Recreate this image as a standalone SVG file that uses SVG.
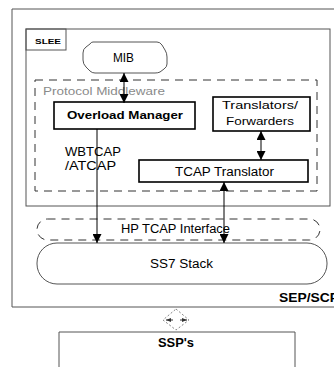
<svg xmlns="http://www.w3.org/2000/svg" width="334" height="367" viewBox="0 0 334 367">
<defs>
<marker id="ah" viewBox="0 0 10 10" refX="10" refY="5" markerWidth="10" markerHeight="9" markerUnits="userSpaceOnUse" orient="auto-start-reverse">
<path d="M0,0 L10,5 L0,10 z" fill="#000"/>
</marker>
<marker id="ahs" viewBox="0 0 10 10" refX="10" refY="5" markerWidth="5" markerHeight="5" markerUnits="userSpaceOnUse" orient="auto-start-reverse">
<path d="M0,1 L10,5 L0,9 z" fill="#333"/>
</marker>
</defs>
<style>
text{font-family:"Liberation Sans",Arial,sans-serif;fill:#000}
.thin{fill:none;stroke:#555;stroke-width:1}
.box{fill:#fff;stroke:#000;stroke-width:1.6}
.dash{fill:none;stroke:#333;stroke-width:1;stroke-dasharray:8,6}
.lbl{text-anchor:start}
.b{font-weight:bold}
.conn{stroke:#000;stroke-width:1;fill:none}
</style>
<rect width="334" height="367" fill="#fff"/>
<g id="sep">
<path class="thin" d="M340,9 L12,9 L12,307 L340,307"/>
<text x="279" y="302" font-size="12" class="b" textLength="60" lengthAdjust="spacingAndGlyphs">SEP/SCP</text>
</g>
<g id="slee">
<rect class="thin" x="26" y="29" width="304" height="177"/>
<rect class="thin" x="26" y="29" width="40" height="21"/>
<text x="35" y="44" font-size="8" class="b" textLength="26" lengthAdjust="spacingAndGlyphs">SLEE</text>
</g>
<g id="protocol-middleware">
<rect class="dash" x="35" y="80" width="282" height="111"/>
<text x="43" y="95" font-size="10" style="fill:#8a8a8a" textLength="122" lengthAdjust="spacingAndGlyphs">Protocol Middleware</text>
</g>
<g id="mib">
<path class="thin" d="M93,42 L157,42 Q160,42 162,45 L165,50 Q167,53 167,57 L167,64 Q167,67 164,69 L160,72 Q158,73 155,73 L95,73 Q92,73 90,71 L86,67 Q83,64 83,60 L83,53 Q83,49 86,47 L90,44 Q91,42 93,42 Z"/>
<text x="113" y="62" font-size="12" textLength="21" lengthAdjust="spacingAndGlyphs">MIB</text>
</g>
<g id="overload-manager">
<rect class="box" x="54" y="102" width="141" height="27"/>
<text x="67" y="119" font-size="11.5" class="b" textLength="116" lengthAdjust="spacingAndGlyphs">Overload Manager</text>
</g>
<g id="translators">
<rect class="box" x="213" y="97" width="97" height="34"/>
<text x="222" y="109" font-size="11.5" textLength="76" lengthAdjust="spacingAndGlyphs">Translators/</text>
<text x="226" y="125" font-size="11.5" textLength="68" lengthAdjust="spacingAndGlyphs">Forwarders</text>
</g>
<g id="tcap-translator">
<rect class="box" x="139" y="160" width="169" height="22"/>
<text x="175" y="175.5" font-size="12.5" textLength="99" lengthAdjust="spacingAndGlyphs">TCAP Translator</text>
</g>
<g id="hp-tcap">
<rect class="dash" x="37" y="219" width="283" height="21" rx="10.5"/>
<text x="121" y="233" font-size="12" textLength="109" lengthAdjust="spacingAndGlyphs">HP TCAP Interface</text>
</g>
<g id="ss7">
<rect class="thin" x="37" y="243" width="290" height="41" rx="20"/>
<text x="150" y="268" font-size="12" textLength="63" lengthAdjust="spacingAndGlyphs">SS7 Stack</text>
</g>
<g id="ssp">
<path class="thin" d="M59,370 L59,332 L295,332 L295,370"/>
<text x="158" y="347" font-size="12" class="b" textLength="36" lengthAdjust="spacingAndGlyphs">SSP's</text>
</g>
<g id="connectors">
<line class="conn" x1="124" y1="73" x2="124" y2="103" stroke-width="1.5" marker-start="url(#ah)" marker-end="url(#ah)"/>
<line class="conn" x1="261" y1="131" x2="261" y2="160" marker-start="url(#ah)" marker-end="url(#ah)"/>
<line class="conn" x1="97" y1="129" x2="97" y2="243" marker-end="url(#ah)"/>
<line class="conn" x1="224" y1="182" x2="224" y2="243" marker-start="url(#ah)" marker-end="url(#ah)"/>
<path d="M176,309 L189,320 L176,330 L163,320 Z" fill="none" stroke="#666" stroke-width="0.8" stroke-dasharray="2,2"/>
<line x1="173" y1="320" x2="166" y2="320" stroke="#333" stroke-width="1" marker-end="url(#ahs)"/>
<line x1="180" y1="320" x2="187" y2="320" stroke="#333" stroke-width="1" marker-end="url(#ahs)"/>
</g>
<g id="labels">
<text x="65" y="156" font-size="12" textLength="56" lengthAdjust="spacingAndGlyphs">WBTCAP</text>
<text x="65" y="170" font-size="12" textLength="51" lengthAdjust="spacingAndGlyphs">/ATCAP</text>
</g>
</svg>
